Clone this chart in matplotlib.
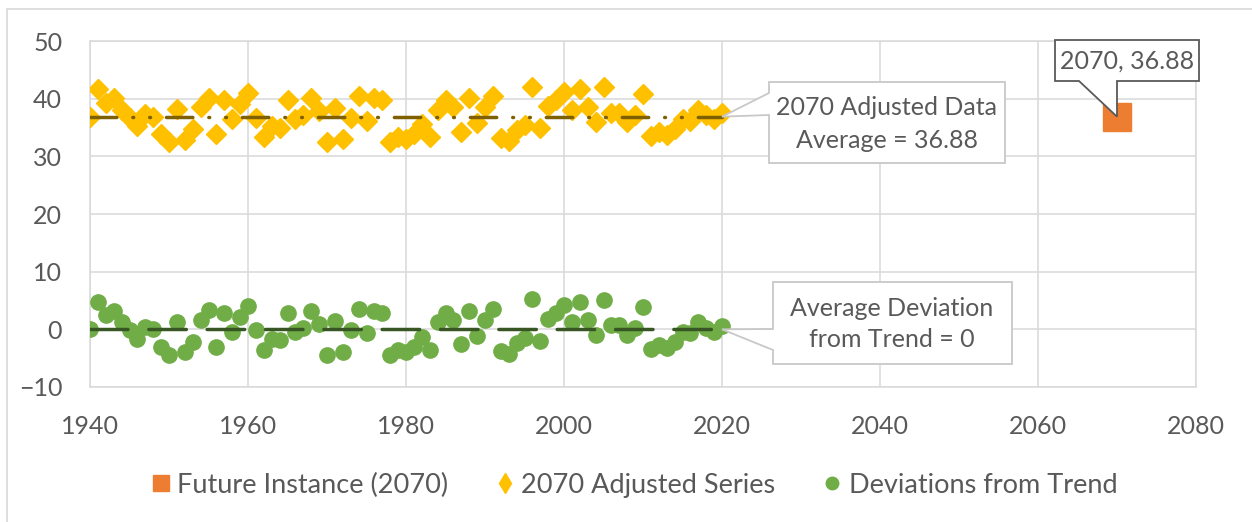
import matplotlib
matplotlib.use('Agg')
import matplotlib.pyplot as plt
from matplotlib.patches import Polygon, Rectangle
from matplotlib.lines import Line2D

plt.rcParams['font.family'] = ['Lato', 'DejaVu Sans']
plt.rcParams['lines.scale_dashes'] = False

# data
years = list(range(1940, 2021))
adjusted = [36.9, 41.7, 39.3, 40.1, 38.1, 36.7, 35.3, 37.3, 36.9, 33.8,
            32.5, 38.2, 32.9, 34.7, 38.5, 40.2, 33.9, 39.7, 36.5, 39.1,
            41.0, 36.7, 33.4, 35.3, 35.0, 39.8, 36.5, 37.2, 40.1, 37.8,
            32.5, 38.3, 33.0, 36.7, 40.5, 36.2, 40.1, 39.8, 32.5, 33.3,
            33.0, 33.9, 35.6, 33.3, 38.1, 39.8, 38.5, 34.3, 40.1, 35.8,
            38.5, 40.4, 33.1, 32.7, 34.5, 35.4, 42.1, 34.9, 38.7, 39.7,
            41.2, 38.1, 41.7, 38.5, 36.0, 42.0, 37.6, 37.6, 35.9, 37.1,
            40.8, 33.5, 34.2, 33.7, 34.7, 36.5, 36.2, 38.1, 37.1, 36.5,
            37.5]
deviations = [0.0, 4.8, 2.4, 3.2, 1.2, -0.2, -1.6, 0.4, 0.0, -3.1,
              -4.4, 1.3, -4.0, -2.2, 1.6, 3.3, -3.0, 2.8, -0.4, 2.2,
              4.1, -0.2, -3.5, -1.6, -1.9, 2.9, -0.4, 0.3, 3.2, 0.9,
              -4.4, 1.4, -3.9, -0.2, 3.6, -0.7, 3.2, 2.9, -4.4, -3.6,
              -3.9, -3.0, -1.3, -3.6, 1.2, 2.9, 1.6, -2.6, 3.2, -1.1,
              1.6, 3.5, -3.8, -4.2, -2.4, -1.5, 5.2, -2.0, 1.8, 2.8,
              4.3, 1.2, 4.8, 1.6, -0.9, 5.1, 0.7, 0.7, -1.0, 0.2,
              3.9, -3.4, -2.7, -3.2, -2.2, -0.4, -0.7, 1.2, 0.2, -0.4,
              0.6]
line_years = [1940, 2020]
adjusted_avg = [36.88, 36.88]
deviation_avg = [0, 0]
future_year = [2070]
future_value = [36.88]

W, H = 1252, 522
TXT = '#595959'
GRID = '#D9D9D9'


def px(x, y):
    return (x / W, 1 - y / H)


fig = plt.figure(figsize=(W / 100, H / 100), dpi=100)
ax = fig.add_axes([90 / W, 1 - 387 / H, (1196 - 90) / W, (387 - 41) / H])

ax.set_xlim(1940, 2080)
ax.set_ylim(-10, 50)
ax.set_xticks(range(1940, 2081, 20))
ax.set_yticks(range(-10, 51, 10))
ax.grid(True, color=GRID, lw=1.1)
ax.set_axisbelow(True)
for s in ax.spines.values():
    s.set_color(GRID)
    s.set_linewidth(1.1)
ax.tick_params(length=0, labelsize=18, colors=TXT)
ax.tick_params(axis='y', pad=20)
ax.tick_params(axis='x', pad=20)

ax.plot(years, adjusted, ls='none', marker='D', ms=10, color='#FFC000', zorder=3)
ax.plot(years, deviations, ls='none', marker='o', ms=11, color='#70AD47', zorder=3)
ax.plot(line_years, adjusted_avg, color='#7F6000', lw=2.5,
        dash_capstyle='round', dashes=(19, 11.5, 0.6, 11.5, 0.6, 11.5), zorder=4)
ax.plot(line_years, deviation_avg, color='#375623', lw=2.5,
        dash_capstyle='round', dashes=(27, 15), zorder=4)
ax.plot(future_year, future_value, ls='none', marker='s', ms=20, color='#ED7D31', zorder=3)

# callouts
inv = fig.transFigure.inverted()


def tip(x, y):
    return tuple(inv.transform(ax.transData.transform((x, y))))


def callout(verts, ec, lw):
    poly = Polygon(verts, closed=True, transform=fig.transFigure, fc='white',
                   ec=ec, lw=lw, zorder=10)
    fig.add_artist(poly)


t1 = tip(line_years[-1], adjusted_avg[-1])
callout([px(769, 82), px(1005, 82), px(1005, 163), px(769, 163), px(769, 115), t1,
         px(769, 93)], '#C8C8C8', 1.3)
fig.text(*px(887, 124), '2070 Adjusted Data\nAverage = 36.88', ha='center', va='center',
         fontsize=18, color=TXT, linespacing=1.5, zorder=11)

t2 = tip(line_years[-1], deviation_avg[-1])
callout([px(773, 282), px(1012, 282), px(1012, 364), px(773, 364), px(773, 350), t2,
         px(773, 329)], '#C8C8C8', 1.3)
fig.text(*px(892, 324), 'Average Deviation\nfrom Trend = 0', ha='center', va='center',
         fontsize=18, color=TXT, linespacing=1.45, zorder=11)

t3 = tip(future_year[0], future_value[0])
callout([px(1055, 40), px(1199, 40), px(1199, 81), px(1117, 81), t3, px(1079, 81),
         px(1055, 81)], '#595959', 1.3)
fig.text(*px(1127, 61), '2070, 36.88', ha='center', va='center',
         fontsize=18, color=TXT, zorder=11)

# legend
handles = [Line2D([], [], ls='none', marker='s', ms=11, color='#ED7D31'),
           Line2D([], [], ls='none', marker='d', ms=10, color='#FFC000'),
           Line2D([], [], ls='none', marker='o', ms=9, color='#70AD47')]
labels = ['Future Instance (2070)', '2070 Adjusted Series', 'Deviations from Trend']
fig.legend(handles, labels, loc='center', bbox_to_anchor=(635 / W, 1 - 485 / H),
           ncol=3, frameon=False, fontsize=19.5, labelcolor=TXT, handlelength=0.6,
           handletextpad=0.3, columnspacing=1.8)

# outer chart border
fig.add_artist(Rectangle(px(7, 530), 1300 / W, 521 / H, transform=fig.transFigure,
                         fill=False, ec=GRID, lw=1.2))

fig.savefig('out.png', dpi=100)
